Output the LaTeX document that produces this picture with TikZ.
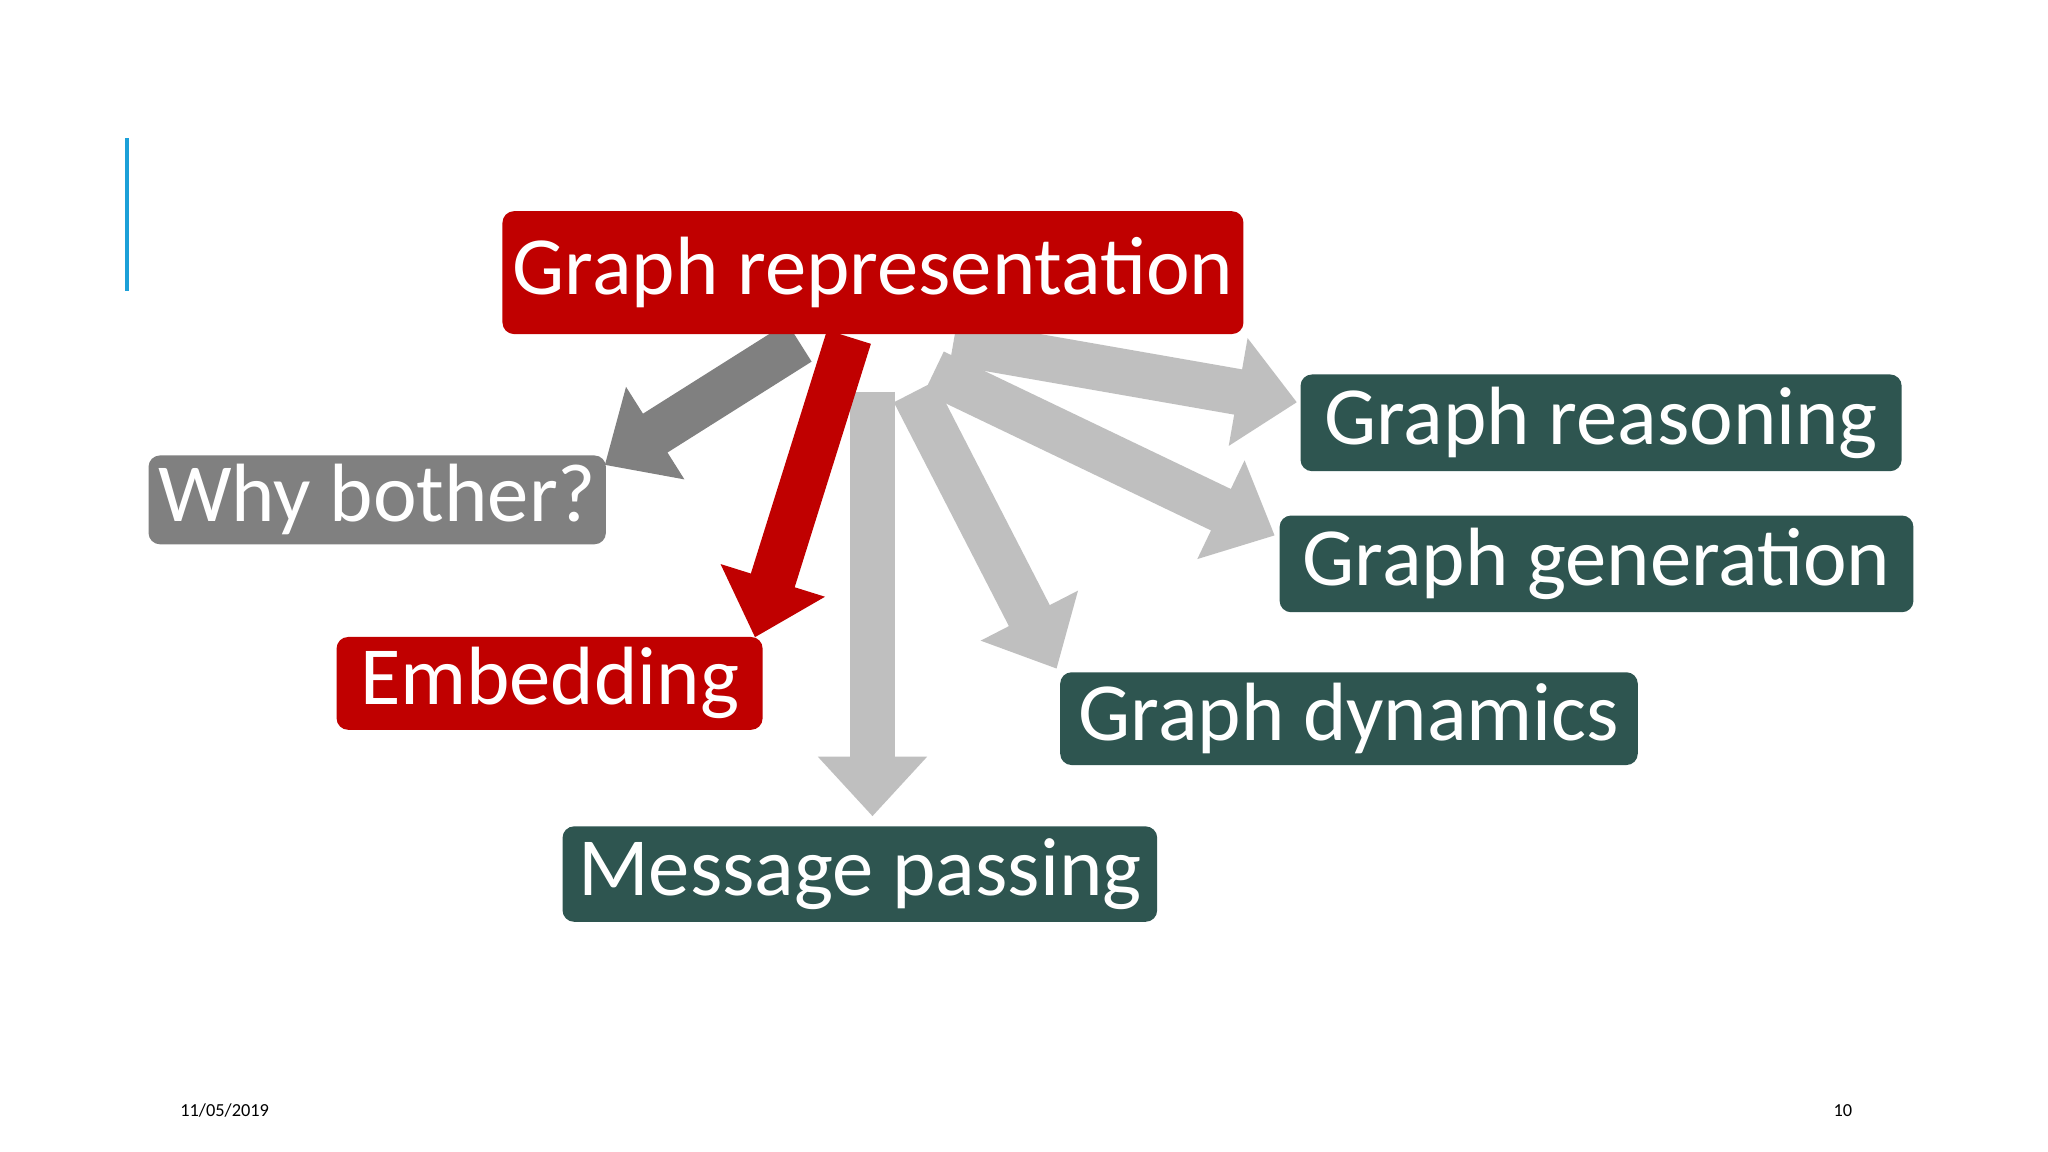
\documentclass[tikz,border=0pt]{standalone}
\usepackage{fontspec}
\setmainfont{Carlito}
\usetikzlibrary{arrows.meta}
\definecolor{dred}{HTML}{C00000}
\definecolor{dteal}{HTML}{2E5550}
\definecolor{mgray}{HTML}{808080}
\definecolor{lgray}{HTML}{BFBFBF}
\definecolor{lblue}{HTML}{1CA0D8}
\begin{document}
\begin{tikzpicture}[x=0.01cm,y=-0.01cm,
  box/.style={rounded corners=2.5pt,text=white,font=\fontsize{18}{20}\selectfont,inner sep=0pt,anchor=north west},
  barrow/.style={line width=10pt,-{Triangle[width=23pt,length=13pt]}},
  footer/.style={font=\fontsize{4}{5}\selectfont,text=black}]
\useasboundingbox (0,0) rectangle (1568,882);
\fill[white] (0,0) rectangle (1568,882);
\draw[lblue,line width=0.8pt] (97,106) -- (97,223);
\coordinate (s1) at (612,262);
\coordinate (t1) at (463,356);
\coordinate (s2) at (650,258);
\coordinate (t2) at (578,488);
\coordinate (s3) at (668,300);
\coordinate (t3) at (668,625);
\coordinate (s4) at (700,300);
\coordinate (t4) at (809,512);
\coordinate (s5) at (715,285);
\coordinate (t5) at (976,410);
\coordinate (s6) at (730,262);
\coordinate (t6) at (993,308);
\draw[barrow,lgray] (s3) -- (t3);
\draw[barrow,lgray] (s4) -- (t4);
\draw[barrow,lgray] (s5) -- (t5);
\draw[barrow,lgray] (s6) -- (t6);
\draw[barrow,mgray] (s1) -- (t1);
\draw[barrow,dred] (s2) -- (t2);
\node[box,fill=dred,minimum width=5.67cm,minimum height=0.94cm] (gr) at (384,161) {Graph representation};
\node[box,fill=mgray,minimum width=3.50cm,minimum height=0.68cm] (wb) at (113,348) {Why bother?};
\node[box,fill=dred,minimum width=3.26cm,minimum height=0.71cm] (em) at (257,487) {Embedding};
\node[box,fill=dteal,minimum width=4.55cm,minimum height=0.73cm] (mp) at (430,632) {Message passing};
\node[box,fill=dteal,minimum width=4.42cm,minimum height=0.71cm] (gd) at (811,514) {Graph dynamics};
\node[box,fill=dteal,minimum width=4.85cm,minimum height=0.74cm] (gg) at (979,394) {Graph generation};
\node[box,fill=dteal,minimum width=4.60cm,minimum height=0.74cm] (gre) at (995,286) {Graph reasoning};
\node[footer] (d) at (172,850) {11/05/2019};
\node[footer] (p) at (1411,850) {10};
\end{tikzpicture}
\end{document}
